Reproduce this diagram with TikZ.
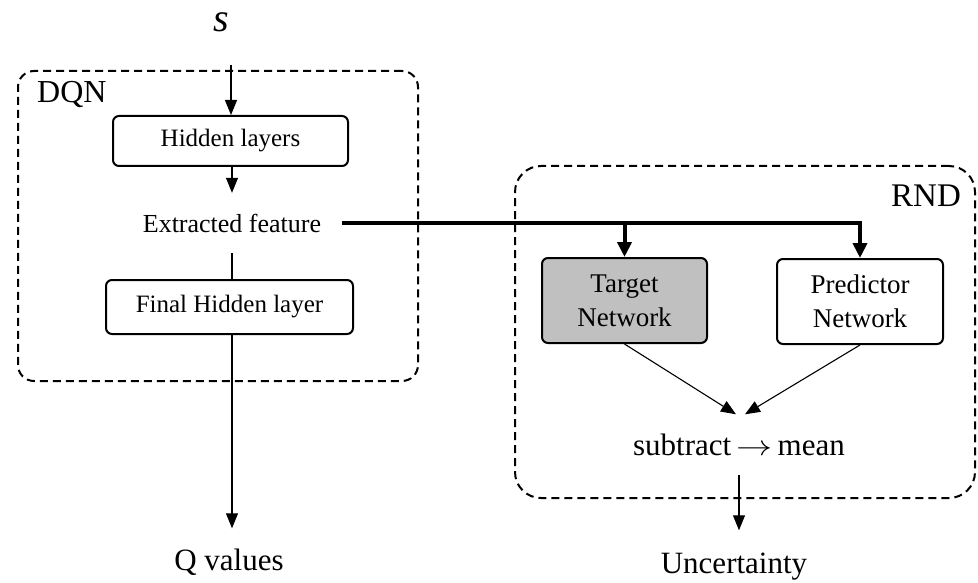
\documentclass[tikz,border=0pt]{standalone}
\usepackage{fontspec}
\usepackage{graphicx}
\setmainfont{Liberation Serif}
\usetikzlibrary{arrows.meta}

\tikzset{
  fsz/.style={font=\fontsize{#1}{#1}\selectfont},
  layerbox/.style={draw, line width=2pt, rounded corners=6pt, inner sep=0pt,
    align=center, font=\fontsize{25}{30}\selectfont},
  netbox/.style={layerbox, font=\fontsize{27}{34}\selectfont},
  groupbox/.style={draw, line width=2pt, dash pattern=on 8pt off 5pt, inner sep=0pt},
  label/.style={inner xsep=0pt},
  arr/.style={line width=1.1pt, -{Triangle[length=15pt, width=12pt]}},
  plain/.style={line width=1.1pt},
  feed/.style={line width=4pt, -{Triangle[length=15pt, width=14pt]}},
}
% a text-sized right arrow
\newcommand\bigto{\scalebox{1.45}[1.15]{$\rightarrow$}}

\begin{document}
\begin{tikzpicture}[x=1pt, y=-1pt]
  \useasboundingbox (0,0) rectangle (978,583);

  % ---- DQN branch ----
  \node[groupbox, rounded corners=16pt, minimum width=400pt, minimum height=310pt]
    (dqn) at (218,226) {};
  \node[label, anchor=base west, fsz=32] (dqnlabel) at (37,103) {DQN};

  \node[anchor=base, inner sep=0pt, fsz=40] (s) at (221,32) {\textit{s}};
  \coordinate (sin) at (231,65);

  \node[layerbox, minimum width=235pt, minimum height=50pt] (hidden) at (230.5,141) {Hidden layers};
  \node[inner xsep=21pt, inner ysep=0pt, minimum height=60pt, fsz=26]
    (extracted) at (232,223) {Extracted feature};
  \node[layerbox, minimum width=247pt, minimum height=54pt] (final) at (229.5,307) {Final Hidden layer};
  \node[anchor=base, inner xsep=0pt, inner ysep=20pt, fsz=31] (qvalues) at (229,570) {Q values};

  \draw[arr] (sin) -- (sin |- hidden.north);
  \draw[arr] (hidden.south -| extracted.north) -- (extracted.north);
  \draw[plain] (extracted.south) -- (extracted.south |- final.north);
  \draw[arr] (final.south -| extracted.south) -- (qvalues.north -| extracted.south);

  % ---- RND branch ----
  \node[groupbox, rounded corners=26pt, minimum width=460pt, minimum height=332pt]
    (rnd) at (745,332) {};
  \node[label, anchor=base west, fsz=33] (rndlabel) at (891,207) {RND};

  \node[netbox, fill={rgb,255:red,192;green,192;blue,192},
        minimum width=165pt, minimum height=85pt] (target) at (624.5,300.5) {Target\\Network};
  \node[netbox, minimum width=166pt, minimum height=85pt] (predictor) at (860,301.5) {Predictor\\Network};

  \node[anchor=base, inner xsep=0pt, inner ysep=19pt, fsz=31]
    (subtract) at (739,455) {subtract\,\bigto\,mean};
  \node[anchor=base, inner xsep=0pt, inner ysep=22pt, fsz=31] (uncert) at (734,573) {Uncertainty};

  % feature fed to both networks
  \draw[feed] (extracted.east) -| (predictor.north);
  \draw[feed] (extracted.east -| target.north) -- (target.north);

  \draw[arr] (target.south) -- ([xshift=-3pt]subtract.north);
  \draw[arr] (predictor.south) -- ([xshift=6pt]subtract.north);
  \draw[arr] (subtract.south) -- (subtract.south |- uncert.north);
\end{tikzpicture}
\end{document}
